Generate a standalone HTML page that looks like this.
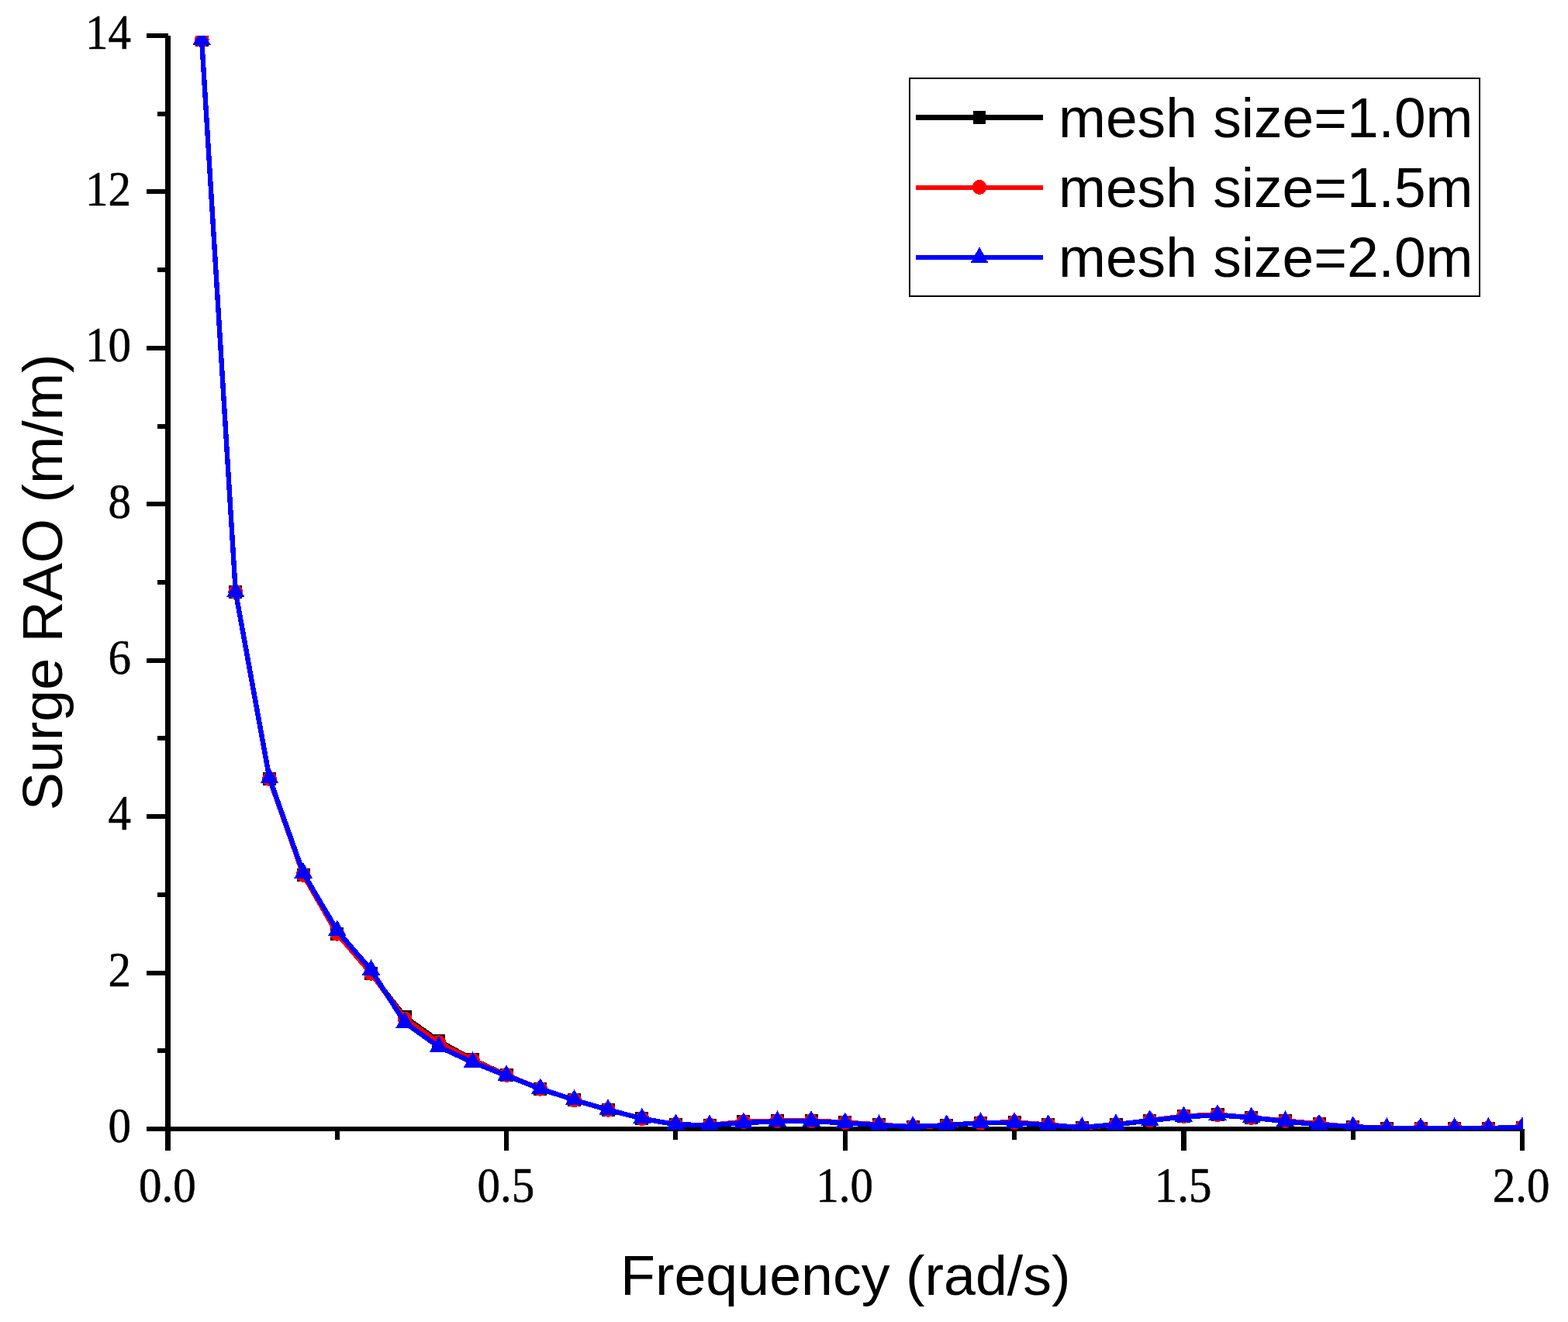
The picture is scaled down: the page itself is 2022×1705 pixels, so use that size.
<!DOCTYPE html>
<html lang="en"><head><meta charset="utf-8">
<title>Surge RAO vs Frequency</title>
<style>
html,body{margin:0;padding:0;background:#fff;}
body{width:2022px;height:1705px;}
svg{display:block;}
.tk{font-family:"Liberation Serif","DejaVu Serif",serif;fill:#000;stroke:#000;stroke-width:0.5px;stroke-linejoin:round;}
.ar{font-family:"Liberation Sans","DejaVu Sans",sans-serif;fill:#000;}
</style></head><body>
<svg width="2022" height="1705" viewBox="0 0 2022 1705">
<rect x="0" y="0" width="2022" height="1705" fill="#fff"/>
<defs><clipPath id="plot"><rect x="216" y="46" width="1748" height="1411"/></clipPath></defs>
<g fill="#000" shape-rendering="crispEdges">
<rect x="213" y="46" width="7" height="1438"/>
<rect x="189" y="1453" width="1774" height="6"/>
<rect x="203" y="1352" width="12" height="6"/>
<rect x="189" y="1252" width="27.5" height="6"/>
<rect x="203" y="1151" width="12" height="6"/>
<rect x="189" y="1050" width="27.5" height="6"/>
<rect x="203" y="949" width="12" height="6"/>
<rect x="189" y="849" width="27.5" height="6"/>
<rect x="203" y="748" width="12" height="6"/>
<rect x="189" y="647" width="27.5" height="6"/>
<rect x="203" y="547" width="12" height="6"/>
<rect x="189" y="446" width="27.5" height="6"/>
<rect x="203" y="345" width="12" height="6"/>
<rect x="189" y="244" width="27.5" height="6"/>
<rect x="203" y="144" width="12" height="6"/>
<rect x="189" y="43" width="27.5" height="6"/>
<rect x="432" y="1456" width="6" height="14"/>
<rect x="650" y="1456" width="6" height="28"/>
<rect x="868" y="1456" width="6" height="14"/>
<rect x="1087" y="1456" width="6" height="28"/>
<rect x="1305" y="1456" width="6" height="14"/>
<rect x="1523" y="1456" width="7" height="28"/>
<rect x="1742" y="1456" width="6" height="14"/>
<rect x="1960" y="1456" width="6" height="28"/>
</g>
<g class="tk" font-size="59" text-anchor="end">
<text transform="translate(169.0 1473.2) scale(1 1.06)">0</text>
<text transform="translate(169.0 1271.8) scale(1 1.06)">2</text>
<text transform="translate(169.0 1070.3) scale(1 1.06)">4</text>
<text transform="translate(169.0 868.9) scale(1 1.06)">6</text>
<text transform="translate(169.0 667.5) scale(1 1.06)">8</text>
<text transform="translate(169.0 466.1) scale(1 1.06)">10</text>
<text transform="translate(169.0 264.6) scale(1 1.06)">12</text>
<text transform="translate(169.0 63.2) scale(1 1.06)">14</text>
</g>
<g class="tk" font-size="59" text-anchor="middle">
<text transform="translate(215.8 1549.9) scale(1 1.06)">0.0</text>
<text transform="translate(652.4 1549.9) scale(1 1.06)">0.5</text>
<text transform="translate(1089.0 1549.9) scale(1 1.06)">1.0</text>
<text transform="translate(1525.7 1549.9) scale(1 1.06)">1.5</text>
<text transform="translate(1961.6 1549.9) scale(1 1.06)">2.0</text>
</g>
<text class="ar" font-size="73" text-anchor="middle" transform="translate(1090.3 1669.5) scale(1.008 1)">Frequency (rad/s)</text>
<text class="ar" font-size="73" text-anchor="middle" transform="translate(80.0 750.9) rotate(-90) scale(1.008 1)">Surge RAO (m/m)</text>
<g clip-path="url(#plot)" shape-rendering="crispEdges" fill="none" stroke-width="6.4" stroke-linejoin="round">
<polyline stroke="#000" points="260.16,51.50 303.82,763.50 347.49,1004.50 391.15,1128.40 434.81,1204.30 478.48,1255.30 522.14,1311.70 565.80,1342.60 609.46,1366.50 653.12,1386.70 696.79,1404.30 740.45,1418.70 784.11,1431.30 827.77,1442.60 871.44,1450.30 915.10,1451.20 958.76,1446.60 1002.43,1445.50 1046.09,1445.50 1089.75,1447.50 1133.41,1450.50 1177.08,1453.50 1220.74,1451.50 1264.40,1448.00 1308.06,1447.50 1351.73,1450.50 1395.39,1454.50 1439.05,1450.50 1482.71,1445.00 1526.38,1439.50 1570.04,1437.50 1613.70,1441.50 1657.36,1445.50 1701.03,1449.50 1744.69,1453.50 1788.35,1455.50 1832.01,1455.00 1875.67,1455.00 1919.34,1455.00 1963.00,1454.00"/>
<g fill="#000" stroke="none">
<rect x="251.7" y="43.0" width="17" height="17"/>
<rect x="295.3" y="755.0" width="17" height="17"/>
<rect x="339.0" y="996.0" width="17" height="17"/>
<rect x="382.6" y="1119.9" width="17" height="17"/>
<rect x="426.3" y="1195.8" width="17" height="17"/>
<rect x="470.0" y="1246.8" width="17" height="17"/>
<rect x="513.6" y="1303.2" width="17" height="17"/>
<rect x="557.3" y="1334.1" width="17" height="17"/>
<rect x="601.0" y="1358.0" width="17" height="17"/>
<rect x="644.6" y="1378.2" width="17" height="17"/>
<rect x="688.3" y="1395.8" width="17" height="17"/>
<rect x="732.0" y="1410.2" width="17" height="17"/>
<rect x="775.6" y="1422.8" width="17" height="17"/>
<rect x="819.3" y="1434.1" width="17" height="17"/>
<rect x="862.9" y="1441.8" width="17" height="17"/>
<rect x="906.6" y="1442.7" width="17" height="17"/>
<rect x="950.3" y="1438.1" width="17" height="17"/>
<rect x="993.9" y="1437.0" width="17" height="17"/>
<rect x="1037.6" y="1437.0" width="17" height="17"/>
<rect x="1081.2" y="1439.0" width="17" height="17"/>
<rect x="1124.9" y="1442.0" width="17" height="17"/>
<rect x="1168.6" y="1445.0" width="17" height="17"/>
<rect x="1212.2" y="1443.0" width="17" height="17"/>
<rect x="1255.9" y="1439.5" width="17" height="17"/>
<rect x="1299.6" y="1439.0" width="17" height="17"/>
<rect x="1343.2" y="1442.0" width="17" height="17"/>
<rect x="1386.9" y="1446.0" width="17" height="17"/>
<rect x="1430.5" y="1442.0" width="17" height="17"/>
<rect x="1474.2" y="1436.5" width="17" height="17"/>
<rect x="1517.9" y="1431.0" width="17" height="17"/>
<rect x="1561.5" y="1429.0" width="17" height="17"/>
<rect x="1605.2" y="1433.0" width="17" height="17"/>
<rect x="1648.9" y="1437.0" width="17" height="17"/>
<rect x="1692.5" y="1441.0" width="17" height="17"/>
<rect x="1736.2" y="1445.0" width="17" height="17"/>
<rect x="1779.9" y="1447.0" width="17" height="17"/>
<rect x="1823.5" y="1446.5" width="17" height="17"/>
<rect x="1867.2" y="1446.5" width="17" height="17"/>
<rect x="1910.8" y="1446.5" width="17" height="17"/>
<rect x="1954.5" y="1445.5" width="17" height="17"/>
</g>
<polyline stroke="#f00" points="260.16,51.50 303.82,763.50 347.49,1004.50 391.15,1128.40 434.81,1204.30 478.48,1255.30 522.14,1314.00 565.80,1344.50 609.46,1367.20 653.12,1386.50 696.79,1404.30 740.45,1418.70 784.11,1431.30 827.77,1442.60 871.44,1450.30 915.10,1451.20 958.76,1446.60 1002.43,1445.50 1046.09,1445.50 1089.75,1447.50 1133.41,1450.50 1177.08,1453.50 1220.74,1451.50 1264.40,1448.00 1308.06,1447.50 1351.73,1450.50 1395.39,1454.50 1439.05,1450.50 1482.71,1445.00 1526.38,1439.50 1570.04,1437.50 1613.70,1441.50 1657.36,1445.50 1701.03,1449.50 1744.69,1453.50 1788.35,1455.50 1832.01,1455.00 1875.67,1455.00 1919.34,1455.00 1963.00,1454.00"/>
<g fill="#f00" stroke="none">
<circle cx="260.2" cy="51.5" r="9.5"/>
<circle cx="303.8" cy="763.5" r="9.5"/>
<circle cx="347.5" cy="1004.5" r="9.5"/>
<circle cx="391.1" cy="1128.4" r="9.5"/>
<circle cx="434.8" cy="1204.3" r="9.5"/>
<circle cx="478.5" cy="1255.3" r="9.5"/>
<circle cx="522.1" cy="1314.0" r="9.5"/>
<circle cx="565.8" cy="1344.5" r="9.5"/>
<circle cx="609.5" cy="1367.2" r="9.5"/>
<circle cx="653.1" cy="1386.5" r="9.5"/>
<circle cx="696.8" cy="1404.3" r="9.5"/>
<circle cx="740.5" cy="1418.7" r="9.5"/>
<circle cx="784.1" cy="1431.3" r="9.5"/>
<circle cx="827.8" cy="1442.6" r="9.5"/>
<circle cx="871.4" cy="1450.3" r="9.5"/>
<circle cx="915.1" cy="1451.2" r="9.5"/>
<circle cx="958.8" cy="1446.6" r="9.5"/>
<circle cx="1002.4" cy="1445.5" r="9.5"/>
<circle cx="1046.1" cy="1445.5" r="9.5"/>
<circle cx="1089.8" cy="1447.5" r="9.5"/>
<circle cx="1133.4" cy="1450.5" r="9.5"/>
<circle cx="1177.1" cy="1453.5" r="9.5"/>
<circle cx="1220.7" cy="1451.5" r="9.5"/>
<circle cx="1264.4" cy="1448.0" r="9.5"/>
<circle cx="1308.1" cy="1447.5" r="9.5"/>
<circle cx="1351.7" cy="1450.5" r="9.5"/>
<circle cx="1395.4" cy="1454.5" r="9.5"/>
<circle cx="1439.0" cy="1450.5" r="9.5"/>
<circle cx="1482.7" cy="1445.0" r="9.5"/>
<circle cx="1526.4" cy="1439.5" r="9.5"/>
<circle cx="1570.0" cy="1437.5" r="9.5"/>
<circle cx="1613.7" cy="1441.5" r="9.5"/>
<circle cx="1657.4" cy="1445.5" r="9.5"/>
<circle cx="1701.0" cy="1449.5" r="9.5"/>
<circle cx="1744.7" cy="1453.5" r="9.5"/>
<circle cx="1788.4" cy="1455.5" r="9.5"/>
<circle cx="1832.0" cy="1455.0" r="9.5"/>
<circle cx="1875.7" cy="1455.0" r="9.5"/>
<circle cx="1919.3" cy="1455.0" r="9.5"/>
<circle cx="1963.0" cy="1454.0" r="9.5"/>
</g>
<polyline stroke="#00f" points="260.16,51.50 303.82,763.50 347.49,1003.50 391.15,1126.10 434.81,1200.20 478.48,1251.00 522.14,1319.00 565.80,1350.10 609.46,1370.00 653.12,1387.30 696.79,1404.30 740.45,1418.70 784.11,1431.30 827.77,1442.60 871.44,1450.30 915.10,1451.20 958.76,1448.20 1002.43,1446.20 1046.09,1446.20 1089.75,1448.20 1133.41,1451.20 1177.08,1453.10 1220.74,1451.20 1264.40,1448.20 1308.06,1448.20 1351.73,1451.20 1395.39,1454.10 1439.05,1450.20 1482.71,1445.20 1526.38,1440.30 1570.04,1438.30 1613.70,1441.30 1657.36,1446.20 1701.03,1450.60 1744.69,1453.10 1788.35,1455.10 1832.01,1455.00 1875.67,1455.00 1919.34,1455.00 1963.00,1454.00"/>
<g fill="#00f" stroke="none">
<polygon points="260.2,37.6 272.0,58.2 248.4,58.2"/>
<polygon points="303.8,749.6 315.6,770.2 292.0,770.2"/>
<polygon points="347.5,989.6 359.3,1010.2 335.7,1010.2"/>
<polygon points="391.1,1112.2 402.9,1132.8 379.3,1132.8"/>
<polygon points="434.8,1186.3 446.6,1206.9 423.0,1206.9"/>
<polygon points="478.5,1237.1 490.3,1257.7 466.7,1257.7"/>
<polygon points="522.1,1305.1 533.9,1325.7 510.3,1325.7"/>
<polygon points="565.8,1336.2 577.6,1356.8 554.0,1356.8"/>
<polygon points="609.5,1356.1 621.3,1376.7 597.7,1376.7"/>
<polygon points="653.1,1373.4 664.9,1394.0 641.3,1394.0"/>
<polygon points="696.8,1390.4 708.6,1411.0 685.0,1411.0"/>
<polygon points="740.5,1404.8 752.2,1425.4 728.7,1425.4"/>
<polygon points="784.1,1417.4 795.9,1438.0 772.3,1438.0"/>
<polygon points="827.8,1428.7 839.6,1449.3 816.0,1449.3"/>
<polygon points="871.4,1436.4 883.2,1457.0 859.6,1457.0"/>
<polygon points="915.1,1437.3 926.9,1457.9 903.3,1457.9"/>
<polygon points="958.8,1434.3 970.6,1454.9 947.0,1454.9"/>
<polygon points="1002.4,1432.3 1014.2,1452.9 990.6,1452.9"/>
<polygon points="1046.1,1432.3 1057.9,1452.9 1034.3,1452.9"/>
<polygon points="1089.8,1434.3 1101.5,1454.9 1078.0,1454.9"/>
<polygon points="1133.4,1437.3 1145.2,1457.9 1121.6,1457.9"/>
<polygon points="1177.1,1439.2 1188.9,1459.8 1165.3,1459.8"/>
<polygon points="1220.7,1437.3 1232.5,1457.9 1208.9,1457.9"/>
<polygon points="1264.4,1434.3 1276.2,1454.9 1252.6,1454.9"/>
<polygon points="1308.1,1434.3 1319.9,1454.9 1296.3,1454.9"/>
<polygon points="1351.7,1437.3 1363.5,1457.9 1339.9,1457.9"/>
<polygon points="1395.4,1440.2 1407.2,1460.8 1383.6,1460.8"/>
<polygon points="1439.0,1436.3 1450.8,1456.9 1427.2,1456.9"/>
<polygon points="1482.7,1431.3 1494.5,1451.9 1470.9,1451.9"/>
<polygon points="1526.4,1426.4 1538.2,1447.0 1514.6,1447.0"/>
<polygon points="1570.0,1424.4 1581.8,1445.0 1558.2,1445.0"/>
<polygon points="1613.7,1427.4 1625.5,1448.0 1601.9,1448.0"/>
<polygon points="1657.4,1432.3 1669.2,1452.9 1645.6,1452.9"/>
<polygon points="1701.0,1436.7 1712.8,1457.3 1689.2,1457.3"/>
<polygon points="1744.7,1439.2 1756.5,1459.8 1732.9,1459.8"/>
<polygon points="1788.4,1441.2 1800.2,1461.8 1776.6,1461.8"/>
<polygon points="1832.0,1441.1 1843.8,1461.7 1820.2,1461.7"/>
<polygon points="1875.7,1441.1 1887.5,1461.7 1863.9,1461.7"/>
<polygon points="1919.3,1441.1 1931.1,1461.7 1907.5,1461.7"/>
<polygon points="1963.0,1440.1 1974.8,1460.7 1951.2,1460.7"/>
</g>
</g>
<g shape-rendering="crispEdges">
<rect x="1173" y="101" width="735" height="281" fill="#fff" stroke="#000" stroke-width="2"/>
<rect x="1181" y="148" width="164" height="7" fill="#000"/>
<rect x="1181" y="239" width="164" height="6" fill="#f00"/>
<rect x="1181" y="329" width="164" height="6" fill="#00f"/>
<rect x="1255" y="143" width="16" height="17" fill="#000"/>
<ellipse cx="1263" cy="241.5" rx="9.2" ry="9.5" fill="#f00"/>
<polygon points="1263,318.2 1274.4,339 1251.6,339" fill="#00f"/>
</g>
<g class="ar" font-size="73">
<text transform="translate(1365.0 177.0) scale(1.002 1)">mesh size=1.0m</text>
<text transform="translate(1365.0 267.0) scale(1.002 1)">mesh size=1.5m</text>
<text transform="translate(1365.0 357.0) scale(1.002 1)">mesh size=2.0m</text>
</g>
</svg>
</body></html>
